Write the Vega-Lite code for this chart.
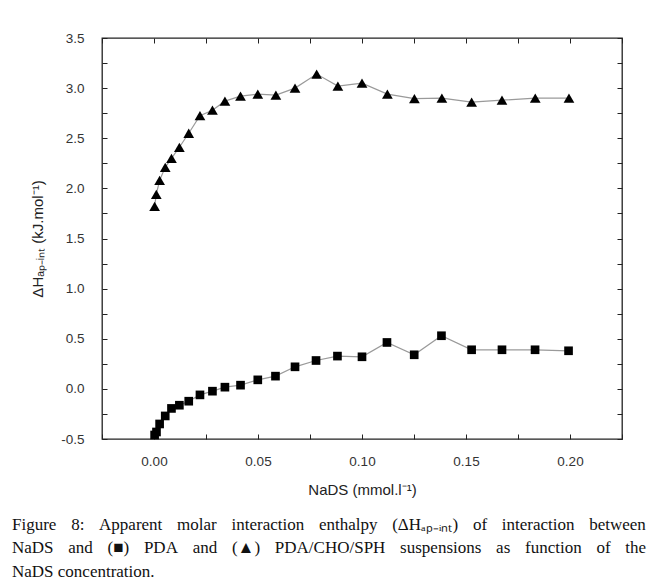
{
  "$schema": "https://vega.github.io/schema/vega-lite/v6.json",
  "autosize": "none",
  "width": 520,
  "height": 401,
  "padding": {"left": 102, "top": 38, "right": 38, "bottom": 148},
  "background": "white",
  "config": {
    "view": {"stroke": "#222", "strokeWidth": 1.3},
    "axis": {"grid": false, "domain": false, "labelFont": "Liberation Sans", "labelFontSize": 13.5, "labelColor": "#333", "titleFont": "Liberation Sans", "titleFontSize": 15, "titleFontWeight": "normal", "titleColor": "#222", "tickColor": "#222", "tickSize": -5}
  },
  "title": {
    "text": ["Figure\u2002\u2009\u200a\u200a8:\u2002\u2009\u200a\u200aApparent\u2002\u2009\u200a\u200amolar\u2002\u2009\u200a\u200ainteraction\u2002\u2009\u200a\u200aenthalpy\u2002\u2009\u200a\u200a(ΔHₐₚ₋ᵢₙₜ)\u2002\u2009\u200a\u200aof\u2002\u2009\u200a\u200ainteraction\u2002\u2009\u200a\u200abetween", "NaDS\u2002\u2009\u200a\u200aand\u2002\u2009\u200a\u200a(■)\u2002\u2009\u200a\u200aPDA\u2002\u2009\u200a\u200aand\u2002\u2009\u200a\u200a(▲)\u2002\u2009\u200a\u200aPDA/CHO/SPH\u2002\u2009\u200a\u200asuspensions\u2002\u2009\u200a\u200aas\u2002\u2009\u200a\u200afunction\u2002\u2009\u200a\u200aof\u2002\u2009\u200a\u200athe", "NaDS concentration."],
    "orient": "bottom", "anchor": "start", "align": "left", "frame": "group",
    "dx": -90, "offset": 19, "font": "Liberation Serif", "fontSize": 17, "fontWeight": "normal", "color": "#111", "lineHeight": 23.5
  },
  "data": {"values": [
    {"series": "PDA", "c": 0.0003, "h": -0.46},
    {"series": "PDA", "c": 0.0012, "h": -0.43},
    {"series": "PDA", "c": 0.0027, "h": -0.35},
    {"series": "PDA", "c": 0.0054, "h": -0.27},
    {"series": "PDA", "c": 0.0084, "h": -0.195},
    {"series": "PDA", "c": 0.0122, "h": -0.163},
    {"series": "PDA", "c": 0.0167, "h": -0.123},
    {"series": "PDA", "c": 0.0221, "h": -0.06},
    {"series": "PDA", "c": 0.0281, "h": -0.023},
    {"series": "PDA", "c": 0.0341, "h": 0.017},
    {"series": "PDA", "c": 0.0416, "h": 0.037},
    {"series": "PDA", "c": 0.0499, "h": 0.09},
    {"series": "PDA", "c": 0.0584, "h": 0.127},
    {"series": "PDA", "c": 0.0678, "h": 0.22},
    {"series": "PDA", "c": 0.0779, "h": 0.283},
    {"series": "PDA", "c": 0.0882, "h": 0.327},
    {"series": "PDA", "c": 0.1, "h": 0.32},
    {"series": "PDA", "c": 0.112, "h": 0.463},
    {"series": "PDA", "c": 0.1251, "h": 0.34},
    {"series": "PDA", "c": 0.1382, "h": 0.53},
    {"series": "PDA", "c": 0.1527, "h": 0.39},
    {"series": "PDA", "c": 0.1673, "h": 0.39},
    {"series": "PDA", "c": 0.1832, "h": 0.39},
    {"series": "PDA", "c": 0.1993, "h": 0.38},
    {"series": "PDA/CHO/SPH", "c": 0.0003, "h": 1.82},
    {"series": "PDA/CHO/SPH", "c": 0.0011, "h": 1.94},
    {"series": "PDA/CHO/SPH", "c": 0.0027, "h": 2.08},
    {"series": "PDA/CHO/SPH", "c": 0.0054, "h": 2.21},
    {"series": "PDA/CHO/SPH", "c": 0.0084, "h": 2.3},
    {"series": "PDA/CHO/SPH", "c": 0.0122, "h": 2.41},
    {"series": "PDA/CHO/SPH", "c": 0.0167, "h": 2.55},
    {"series": "PDA/CHO/SPH", "c": 0.0221, "h": 2.725},
    {"series": "PDA/CHO/SPH", "c": 0.0281, "h": 2.78},
    {"series": "PDA/CHO/SPH", "c": 0.0341, "h": 2.87},
    {"series": "PDA/CHO/SPH", "c": 0.0416, "h": 2.92},
    {"series": "PDA/CHO/SPH", "c": 0.0499, "h": 2.94},
    {"series": "PDA/CHO/SPH", "c": 0.0586, "h": 2.93},
    {"series": "PDA/CHO/SPH", "c": 0.0678, "h": 3.0},
    {"series": "PDA/CHO/SPH", "c": 0.0782, "h": 3.14},
    {"series": "PDA/CHO/SPH", "c": 0.0884, "h": 3.02},
    {"series": "PDA/CHO/SPH", "c": 0.1, "h": 3.05},
    {"series": "PDA/CHO/SPH", "c": 0.1122, "h": 2.94},
    {"series": "PDA/CHO/SPH", "c": 0.1252, "h": 2.895},
    {"series": "PDA/CHO/SPH", "c": 0.1384, "h": 2.9},
    {"series": "PDA/CHO/SPH", "c": 0.1527, "h": 2.86},
    {"series": "PDA/CHO/SPH", "c": 0.1673, "h": 2.88},
    {"series": "PDA/CHO/SPH", "c": 0.1833, "h": 2.9},
    {"series": "PDA/CHO/SPH", "c": 0.1995, "h": 2.9}
  ]},
  "layer": [
    {
      "mark": {"type": "line", "color": "#9a9a9a", "strokeWidth": 1.2},
      "encoding": {
        "x": {"field": "c", "type": "quantitative", "scale": {"domain": [-0.025, 0.225], "nice": false, "zero": false},
          "axis": {"title": "NaDS (mmol.l⁻¹)", "titlePadding": 15, "labelPadding": 20, "values": [-0.025, 0, 0.025, 0.05, 0.075, 0.1, 0.125, 0.15, 0.175, 0.2, 0.225],
            "labelExpr": "datum.value >= 0 && datum.value < 0.21 && abs(datum.value*20 - round(datum.value*20)) < 0.001 ? format(datum.value, '.2f') : ''"}},
        "y": {"field": "h", "type": "quantitative", "scale": {"domain": [-0.5, 3.5], "nice": false, "zero": false},
          "axis": {"title": "ΔHₐₚ₋ᵢₙₜ (kJ.mol⁻¹)", "titlePadding": 15, "labelPadding": 23, "values": [-0.5, -0.25, 0, 0.25, 0.5, 0.75, 1, 1.25, 1.5, 1.75, 2, 2.25, 2.5, 2.75, 3, 3.25, 3.5],
            "labelExpr": "abs(datum.value*2 - round(datum.value*2)) < 0.001 ? replace(format(datum.value, '.1f'), '−', '-') : ''"}},
        "detail": {"field": "series"}
      }
    },
    {
      "mark": {"type": "point", "filled": true, "color": "black", "opacity": 1},
      "encoding": {
        "x": {"field": "c", "type": "quantitative",
          "axis": {"orient": "top", "title": null, "labels": false, "values": [-0.025, 0, 0.025, 0.05, 0.075, 0.1, 0.125, 0.15, 0.175, 0.2, 0.225]}},
        "y": {"field": "h", "type": "quantitative",
          "axis": {"orient": "right", "title": null, "labels": false, "values": [-0.5, -0.25, 0, 0.25, 0.5, 0.75, 1, 1.25, 1.5, 1.75, 2, 2.25, 2.5, 2.75, 3, 3.25, 3.5]}},
        "shape": {"field": "series", "type": "nominal", "scale": {"domain": ["PDA", "PDA/CHO/SPH"], "range": ["square", "triangle-up"]}, "legend": null},
        "size": {"field": "series", "type": "nominal", "scale": {"domain": ["PDA", "PDA/CHO/SPH"], "range": [75, 115]}, "legend": null}
      }
    }
  ],
  "resolve": {"axis": {"x": "independent", "y": "independent"}}
}
